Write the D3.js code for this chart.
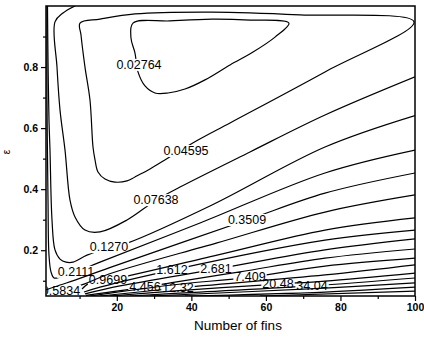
<!DOCTYPE html>
<html>
<head>
<meta charset="utf-8">
<script src="https://cdn.jsdelivr.net/npm/d3@7"></script>
<style>
  html, body { margin: 0; padding: 0; background: #fff; }
  svg { display: block; font-family: Arial, "Liberation Sans", Helvetica, sans-serif; }
</style>
</head>
<body>
<svg id="chart" width="424" height="338"></svg>
<script>
// Contour levels and the labels printed on them
const levels = [0.02764, 0.04595, 0.07638, 0.1270, 0.2111, 0.3509, 0.5834, 0.9699, 1.612,
                2.681, 4.456, 7.409, 12.32, 20.48, 34.04, 56.59, 94.08, 156.4];
const levelLabels = ['0.02764', '0.04595', '0.07638', '0.1270', '0.2111', '0.3509', '0.5834',
                     '0.9699', '1.612', '2.681', '4.456', '7.409', '12.32', '20.48', '34.04'];
// where each label sits on its line [number of fins, epsilon]
const labelPoints = [[25.95, 0.807], [38.56, 0.525], [30.51, 0.364], [17.90, 0.210], [9.05, 0.129],
                     [54.93, 0.299], [5.02, 0.068], [17.63, 0.102], [34.80, 0.135], [46.61, 0.138],
                     [27.56, 0.079], [55.73, 0.112], [36.41, 0.076], [63.24, 0.089], [72.37, 0.083]];

// Contour lines, [number of fins, epsilon]
const c0 = [[24.34, 0.944], [23.80, 0.895], [24.88, 0.846], [25.68, 0.784], [27.56, 0.738], [30.24, 0.715],
            [33.73, 0.715], [38.29, 0.728], [43.66, 0.758], [50.37, 0.807], [56.54, 0.849], [62.44, 0.898],
            [66.19, 0.944], [55.73, 0.954], [45.54, 0.957], [34.27, 0.951]];
const c1 = [[10.12, 0.944], [15.49, 0.957], [24.88, 0.974], [45.54, 0.980], [69.15, 0.971], [99.73, 0.948],
            [75.85, 0.784], [50.37, 0.617], [41.78, 0.561], [33.73, 0.502], [28.90, 0.466], [24.88, 0.440],
            [22.73, 0.427], [19.51, 0.423], [16.83, 0.433], [14.95, 0.456], [14.15, 0.496], [13.61, 0.538],
            [12.80, 0.692], [11.46, 0.800], [10.39, 0.905]];
const c2 = [[8.8, 1.0], [5.56, 0.977], [3.41, 0.948], [3.95, 0.800], [4.76, 0.659], [6.10, 0.528],
            [7.44, 0.364], [8.78, 0.309], [11.46, 0.266], [15.49, 0.260], [22.73, 0.299], [30.51, 0.364],
            [36.95, 0.407], [55.73, 0.522], [75.85, 0.643], [100, 0.768]];
const c3 = [[1.40, 1.0], [1.54, 0.823], [1.80, 0.627], [2.07, 0.528], [2.61, 0.299], [3.41, 0.201],
            [4.76, 0.171], [6.37, 0.161], [8.24, 0.161], [12.00, 0.184], [17.90, 0.207], [23.00, 0.224],
            [45.54, 0.348], [75.85, 0.538], [100, 0.641]];
const c4 = [[1.27, 1.0], [1.27, 0.692], [1.54, 0.364], [1.80, 0.184], [2.34, 0.129], [3.15, 0.109],
            [4.76, 0.112], [9.05, 0.129], [15.49, 0.161], [42.32, 0.289], [75.85, 0.453], [100, 0.528]];
const c5 = [[1.0, 0.070], [4.76, 0.086], [8.78, 0.102], [17.90, 0.142], [54.93, 0.299], [75.85, 0.387], [100, 0.453]];
const c6 = [[1.0, 0.055], [5.02, 0.068], [11.20, 0.089], [17.90, 0.122], [46.88, 0.224], [75.85, 0.325], [100, 0.381]];
const c7 = [[10.66, 0.073], [12.80, 0.093], [17.63, 0.102], [46.88, 0.184], [75.85, 0.266], [100, 0.306]];
const c8 = [[11.20, 0.063], [15.49, 0.079], [34.80, 0.135], [75.85, 0.233], [100, 0.266]];
const c9 = [[11.46, 0.057], [20.85, 0.083], [46.61, 0.138], [75.85, 0.201], [100, 0.237]];
const c10 = [[11.73, 0.052], [27.56, 0.079], [34.80, 0.094], [53.05, 0.129], [75.85, 0.174], [100, 0.204]];
const c11 = [[12.80, 0.05], [34.80, 0.086], [55.73, 0.112], [75.85, 0.148], [100, 0.174]];
const c12 = [[15.49, 0.05], [36.41, 0.076], [75.85, 0.119], [100, 0.152]];
const c13 = [[18.17, 0.05], [34.80, 0.066], [63.24, 0.089], [75.85, 0.099], [100, 0.125]];
const c14 = [[23.54, 0.05], [42.32, 0.063], [72.37, 0.083], [100, 0.109]];
const c15 = [[28.90, 0.05], [75.85, 0.076], [100, 0.093]];
const c16 = [[38.29, 0.05], [75.85, 0.063], [100, 0.079]];
const c17 = [[58.41, 0.05], [100, 0.066]];

const contourLines = [c0, c1, c2, c3, c4, c5, c6, c7, c8, c9, c10, c11, c12, c13, c14, c15, c16, c17];
const closedLines = [c0, c1];

const xMajor = [20, 40, 60, 80, 100];
const xMinor = [10, 30, 50, 70, 90];
const yMajor = [0.2, 0.4, 0.6, 0.8];
const yMinor = [0.1, 0.3, 0.5, 0.7, 0.9];

const plot = { left: 46, top: 6, right: 415, bottom: 296 };

const svg = d3.select('#chart');
svg.append('rect').attr('width', 424).attr('height', 338).attr('fill', '#fff');

const x = d3.scaleLinear().domain([1, 100]).range([plot.left, plot.right]);
const y = d3.scaleLinear().domain([0.05, 1.0]).range([plot.bottom, plot.top]);

const defs = svg.append('defs');
defs.append('clipPath').attr('id', 'plotClip')
  .append('rect')
  .attr('x', plot.left).attr('y', plot.top)
  .attr('width', plot.right - plot.left).attr('height', plot.bottom - plot.top);
// labels may hang a little below the frame, but not left of it
defs.append('clipPath').attr('id', 'labelClip')
  .append('rect')
  .attr('x', plot.left + 0.5).attr('y', plot.top)
  .attr('width', plot.right - plot.left).attr('height', plot.bottom - plot.top + 4);

const lineG = svg.append('g').attr('clip-path', 'url(#plotClip)');
const labelG = svg.append('g').attr('clip-path', 'url(#labelClip)');

// Labels first so their boxes can cut gaps in their own lines
const boxes = labelPoints.map((p, i) => {
  const t = labelG.append('text')
    .attr('x', x(p[0]))
    .attr('y', y(p[1]))
    .attr('text-anchor', 'middle')
    .attr('dominant-baseline', 'central')
    .attr('font-size', '12.5px')
    .attr('fill', '#000')
    .text(levelLabels[i]);
  return t.node().getBBox();
});

const lineGen = d3.line().x(d => x(d[0])).y(d => y(d[1]));

contourLines.forEach((pts, i) => {
  const closed = closedLines.includes(pts);
  lineGen.curve(closed ? d3.curveCatmullRomClosed.alpha(0.5) : d3.curveCatmullRom.alpha(0.5));
  const path = lineG.append('path')
    .attr('d', lineGen(pts))
    .attr('fill', 'none')
    .attr('stroke', '#000')
    .attr('stroke-width', 1.2)
    .attr('stroke-linejoin', 'round')
    .attr('data-level', levels[i]);

  const b = boxes[i];
  if (b) {
    const m = defs.append('mask').attr('id', 'gap' + i).attr('maskUnits', 'userSpaceOnUse')
      .attr('x', 0).attr('y', 0).attr('width', 424).attr('height', 338);
    m.append('rect').attr('x', 0).attr('y', 0).attr('width', 424).attr('height', 338).attr('fill', '#fff');
    m.append('rect')
      .attr('x', b.x - 1).attr('y', b.y + 1)
      .attr('width', b.width + 2).attr('height', b.height - 2)
      .attr('fill', '#000');
    path.attr('mask', 'url(#gap' + i + ')');
  }
});

// Axes
function styleAxis(g) {
  g.select('.domain').remove();
  g.selectAll('.tick line').attr('stroke', '#000').attr('stroke-width', 1.2);
  g.selectAll('.tick text').attr('fill', '#000').attr('font-size', '10.5px').attr('font-weight', 'bold')
    .attr('font-family', 'Arial, "Liberation Sans", sans-serif');
}

svg.append('g')
  .attr('transform', `translate(0,${plot.bottom})`)
  .call(d3.axisBottom(x).tickValues(xMinor).tickSize(3).tickFormat(''))
  .call(styleAxis);
svg.append('g')
  .attr('transform', `translate(0,${plot.bottom})`)
  .call(d3.axisBottom(x).tickValues(xMajor).tickSize(5).tickPadding(3).tickFormat(d3.format('d')))
  .call(styleAxis);

svg.append('g')
  .attr('transform', `translate(${plot.left},0)`)
  .call(d3.axisLeft(y).tickValues(yMinor).tickSize(3).tickFormat(''))
  .call(styleAxis);
svg.append('g')
  .attr('transform', `translate(${plot.left},0)`)
  .call(d3.axisLeft(y).tickValues(yMajor).tickSize(5).tickPadding(3).tickFormat(d3.format('.1f')))
  .call(styleAxis);

// Frame
svg.append('rect')
  .attr('x', plot.left).attr('y', plot.top)
  .attr('width', plot.right - plot.left).attr('height', plot.bottom - plot.top)
  .attr('fill', 'none').attr('stroke', '#000').attr('stroke-width', 1.5);

// Axis titles
svg.append('text')
  .attr('x', 238).attr('y', 330)
  .attr('text-anchor', 'middle')
  .attr('font-size', '13.5px')
  .attr('fill', '#000')
  .text('Number of fins');

svg.append('text')
  .attr('transform', 'translate(10,152) rotate(-90)')
  .attr('text-anchor', 'middle')
  .attr('font-size', '10px')
  .attr('fill', '#000')
  .text('ε');
</script>
</body>
</html>
